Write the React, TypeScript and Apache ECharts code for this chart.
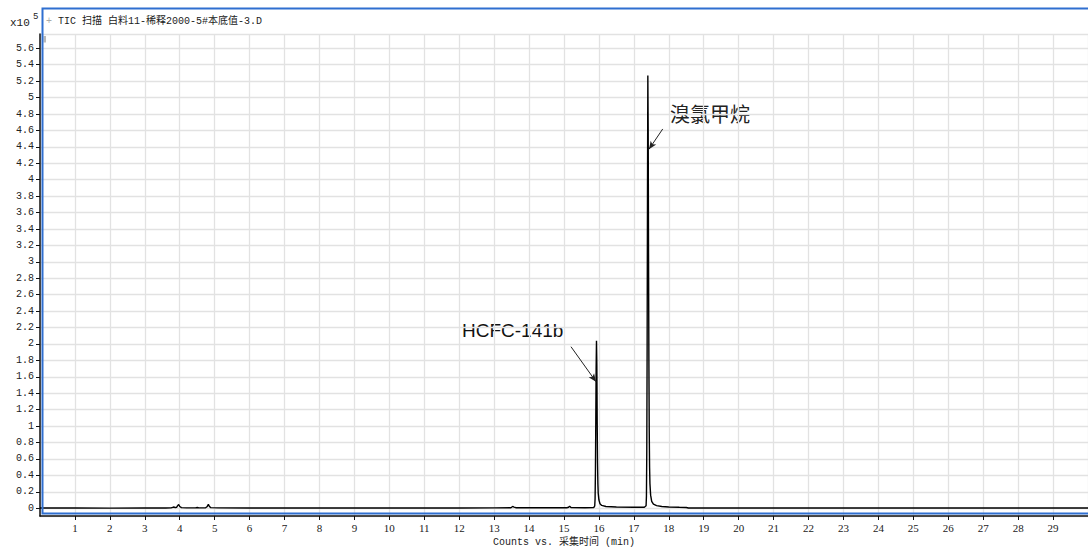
import React, { useEffect, useRef } from "react";
import * as echarts from "echarts";

// Retention time (min) and TIC abundance (x10^5 counts)
const retentionTime = [
  0.0, 1.0, 2.0, 3.0, 3.6, 3.75, 3.8, 3.83, 3.87, 3.91, 3.94, 3.97, 4.0, 4.05, 4.2, 4.45, 4.5, 4.55,
  4.74, 4.78, 4.82, 4.85, 4.89, 5.1, 6.0, 8.0, 10.0, 12.0, 13.0, 13.48, 13.53, 13.57, 13.62, 14.5,
  15.08, 15.13, 15.16, 15.2, 15.6, 15.85, 15.88, 15.89, 15.9, 15.91, 15.92, 15.93, 15.94, 15.95,
  15.96, 15.97, 15.98, 16.0, 16.03, 16.08, 16.2, 16.5, 17.0, 17.3, 17.35, 17.36, 17.37, 17.38,
  17.39, 17.4, 17.41, 17.42, 17.43, 17.44, 17.45, 17.46, 17.48, 17.51, 17.56, 17.65, 17.8, 18.0,
  18.3, 18.5, 18.56, 19.0, 22.0, 25.0, 30.0,
];
const abundance = [
  0.003, 0.003, 0.002, 0.003, 0.003, 0.005, 0.012, 0.016, 0.008, 0.012, 0.032, 0.046, 0.022, 0.008,
  0.005, 0.005, 0.009, 0.005, 0.006, 0.018, 0.048, 0.022, 0.008, 0.005, 0.004, 0.003, 0.004, 0.004,
  0.005, 0.006, 0.022, 0.015, 0.007, 0.006, 0.007, 0.012, 0.026, 0.009, 0.007, 0.008, 0.03, 0.12,
  0.45, 1.05, 1.7, 2.04, 1.75, 1.05, 0.55, 0.3, 0.18, 0.1, 0.055, 0.035, 0.022, 0.016, 0.013,
  0.013, 0.03, 0.15, 0.7, 2.0, 3.8, 5.27, 4.6, 3.1, 1.8, 0.95, 0.5, 0.3, 0.16, 0.085, 0.05, 0.032,
  0.022, 0.016, 0.012, 0.01, 0.004, 0.003, 0.003, 0.003, 0.003,
];

// Annotation arrows: [fromTime, fromValue, toTime, toValue]
const arrowHCFC = [15.2, 1.967, 15.916, 1.541];
const arrowBCM = [17.826, 4.618, 17.433, 4.371];

const titleText = "TIC 扫描 白料11-稀释2000-5#本底值-3.D";
const xAxisName = "Counts vs. 采集时间 (min)";
const peakLabels = ["HCFC-141b", "溴氯甲烷"];

const monoFont = "'Liberation Mono', 'Noto Sans CJK SC', monospace";
const serifFont = "'Liberation Serif', serif";

export default function App() {
  const ref = useRef<HTMLDivElement>(null);

  useEffect(() => {
    if (!ref.current) return;
    const chart = echarts.init(ref.current, null, { renderer: "svg" });
    const data = retentionTime.map((t, i) => [t, abundance[i]]);
    const gridColor = "#e2e2e2";
    chart.setOption({
      animation: false,
      backgroundColor: "#ffffff",
      grid: {
        left: 40,
        right: 0,
        top: 34,
        bottom: 32,
        containLabel: false,
        outerBoundsMode: "none",
      },
      xAxis: {
        type: "value",
        min: 0,
        max: 30,
        interval: 1,
        name: xAxisName,
        nameLocation: "middle",
        nameGap: 19,
        nameTextStyle: { fontFamily: monoFont, fontSize: 10, color: "#222" },
        axisLine: { show: true, onZero: false, lineStyle: { color: "#111", width: 1.5 } },
        axisTick: { show: true, length: 4, lineStyle: { color: "#111", width: 1 } },
        axisLabel: {
          margin: 6,
          fontFamily: serifFont,
          fontSize: 11,
          color: "#222",
          showMinLabel: false,
          showMaxLabel: false,
        },
        splitLine: { show: true, lineStyle: { color: gridColor, width: 1.3 } },
      },
      yAxis: {
        type: "value",
        min: -0.094,
        max: 5.774,
        splitNumber: 29,
        axisLine: { show: true, onZero: false, lineStyle: { color: "#111", width: 1.5 } },
        axisTick: { show: true, length: 4, lineStyle: { color: "#111", width: 1 } },
        axisLabel: {
          margin: 6,
          fontFamily: monoFont,
          fontSize: 10,
          color: "#222",
          showMinLabel: false,
          showMaxLabel: false,
        },
        splitLine: { show: true, lineStyle: { color: gridColor, width: 1.3 } },
      },
      series: [
        {
          type: "line",
          data,
          showSymbol: false,
          silent: true,
          lineStyle: { color: "#000", width: 1.4 },
          markLine: {
            silent: true,
            symbol: ["none", "arrow"],
            symbolSize: [5, 8],
            label: { show: false },
            lineStyle: { color: "#222", width: 1, type: "solid" },
            data: [
              [{ coord: [arrowHCFC[0], arrowHCFC[1]] }, { coord: [arrowHCFC[2], arrowHCFC[3]] }],
              [{ coord: [arrowBCM[0], arrowBCM[1]] }, { coord: [arrowBCM[2], arrowBCM[3]] }],
            ],
          },
        },
      ],
      graphic: [
        {
          type: "rect",
          shape: { x: 42.5, y: 8.5, width: 1100, height: 505 },
          style: { fill: "none", stroke: "#2f6fd0", lineWidth: 2 },
          silent: true,
          z: 10,
        },
        {
          type: "rect",
          shape: { x: 43.5, y: 36, width: 2.5, height: 6.5 },
          style: { fill: "#b8b8b8" },
          silent: true,
        },
        {
          type: "text",
          x: 10,
          y: 23,
          style: { text: "x10", font: `11px ${monoFont}`, fill: "#222", textVerticalAlign: "middle" },
        },
        {
          type: "text",
          x: 33,
          y: 17,
          style: { text: "5", font: `9px ${monoFont}`, fill: "#222", textVerticalAlign: "middle" },
        },
        {
          type: "text",
          x: 46,
          y: 21,
          style: {
            text: "{p|+} " + titleText,
            font: `10px ${monoFont}`,
            fill: "#222",
            textVerticalAlign: "middle",
            rich: { p: { fill: "#aaa", font: `10px ${monoFont}` } },
          },
        },
        {
          type: "text",
          x: 462,
          y: 330,
          style: {
            text: peakLabels[0],
            font: "19px 'Liberation Sans', Arial, sans-serif",
            fill: "#111",
            textVerticalAlign: "middle",
          },
        },
        {
          type: "text",
          x: 670,
          y: 113,
          style: {
            text: peakLabels[1],
            font: "20px 'Noto Sans CJK SC', sans-serif",
            fill: "#222",
            textVerticalAlign: "middle",
          },
        },
      ],
    });
    return () => chart.dispose();
  }, []);

  return (
    <div
      ref={ref}
      style={{ position: "fixed", left: 0, top: 0, width: 1088, height: 548, background: "#fff" }}
    />
  );
}
